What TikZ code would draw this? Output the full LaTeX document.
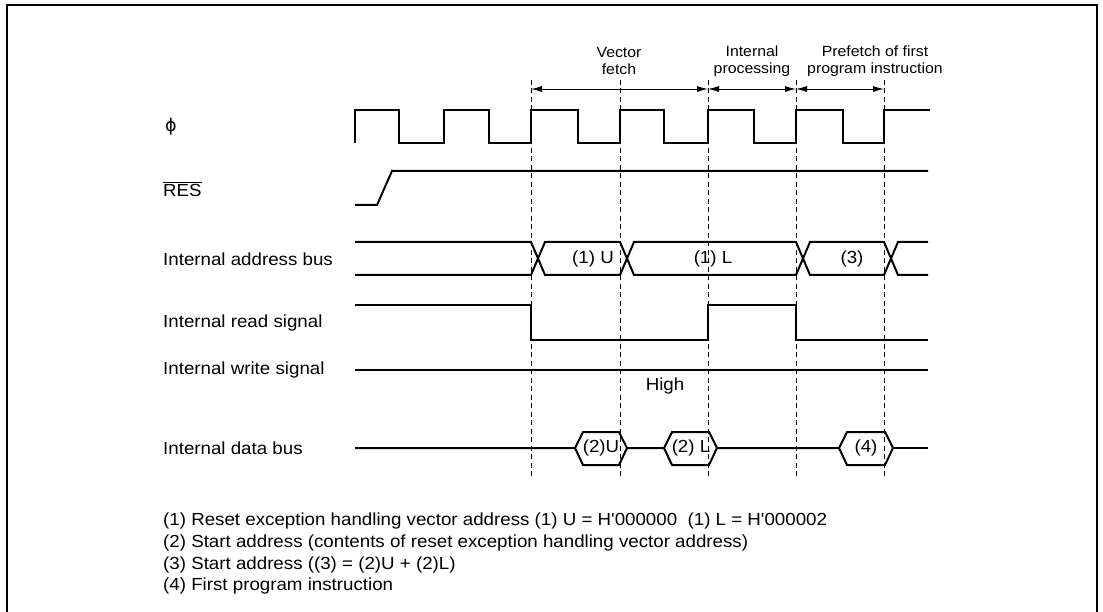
\documentclass[tikz,border=0pt]{standalone}
\usepackage{fontspec}
\setmainfont{Liberation Sans}[Ligatures=TeXOff, FakeStretch=1.07]
\newfontfamily\greekfont{DejaVu Sans}
\usetikzlibrary{arrows.meta, positioning, calc}

\begin{document}
\begin{tikzpicture}[
    x=1pt, y=-1pt,
    >={Latex[length=11pt,width=6pt]},
    sig/.style   = {line width=2pt, line join=miter},
    guide/.style = {line width=0.9pt, dash pattern=on 5pt off 3.5pt},
    span/.style  = {<->, line width=0.9pt},
    frame/.style = {line width=2.6pt},
    lbl/.style   = {anchor=west, inner sep=0pt, font=\fontsize{17.5}{21}\selectfont},
    val/.style   = {inner sep=0pt, font=\fontsize{17.5}{21}\selectfont},
    head/.style  = {align=center, inner sep=0pt, font=\fontsize{14.8}{17.5}\selectfont},
    note/.style  = {anchor=west, inner sep=0pt, font=\fontsize{17.5}{21}\selectfont}
  ]

  % ── Page and frame ──────────────────────────────────────────
  \useasboundingbox (0,0) rectangle (1103,612);
  \begin{scope}
    \clip (0,0) rectangle (1103,612);
    \draw[frame] (7,640) -- (7,5) -- (1097,5) -- (1097,640);
  \end{scope}

  % ── Guides (x = 531 ... 884) ────────────────────────────────
  \foreach \t/\x in {1/531, 2/620, 3/708, 4/796, 5/884} {
    \coordinate (g\t)  at (\x,80);
    \coordinate (g\t b) at (\x,478);
    \coordinate (a\t)  at (\x,89);
    \draw[guide] (g\t) -- (g\t b);
  }

  % ── Phase spans ─────────────────────────────────────────────
  \draw[span] (a1) -- (a3);
  \draw[span] (a3) -- (a4);
  \draw[span] (a4) -- (a5);
  \node[head] (hfetch) at (619,61) {Vector\\fetch};
  \node[head] (hproc)  at (752,61) {Internal\\processing};
  \node[head] (hpre)   at (875,61) {Prefetch of first\\program instruction};

  % ── Signal names ────────────────────────────────────────────
  \node[lbl] (lphi)  at (165,127) {\greekfont ϕ};
  \node[lbl] (lres)  at (163,189) {$\overline{\mbox{RES}}$};
  \node[lbl] (ladr)  at (163,259) {Internal address bus};
  \node[lbl] (lrd)   at (163,323) {Internal read signal};
  \node[lbl] (lwr)   at (163,370) {Internal write signal};
  \node[lbl] (ldat)  at (163,448) {Internal data bus};

  % ── Clock ───────────────────────────────────────────────────
  \draw[sig] (355,143) -- (355,110) -- (399,110) -- (399,143) -- (444,143)
    -- (444,110) -- (489,110) -- (489,143) -- (531,143) -- (531,110)
    -- (578,110) -- (578,143) -- (620,143) -- (620,110) -- (664,110)
    -- (664,143) -- (708,143) -- (708,110) -- (754,110) -- (754,143)
    -- (796,143) -- (796,110) -- (843,110) -- (843,143) -- (884,143)
    -- (884,110) -- (930,110);

  % ── Reset ───────────────────────────────────────────────────
  \draw[sig] (355,205) -- (377,205) -- (392,171) -- (928,171);

  % ── Address bus ─────────────────────────────────────────────
  \draw[sig] (355,242) -- (531,242) -- (545,275) -- (620,275) -- (634,242)
    -- (796,242) -- (810,275) -- (884,275) -- (898,242) -- (928,242);
  \draw[sig] (355,275) -- (531,275) -- (545,242) -- (620,242) -- (634,275)
    -- (796,275) -- (810,242) -- (884,242) -- (898,275) -- (928,275);
  \node[val] (au) at (593,259) {(1) U};
  \node[val] (al) at (713,259) {(1) L};
  \node[val] (a3) at (852,259) {(3)};

  % ── Read / write ────────────────────────────────────────────
  \draw[sig] (355,305) -- (531,305) -- (531,340) -- (708,340) -- (708,305)
    -- (796,305) -- (796,340) -- (928,340);
  \draw[sig] (355,370) -- (928,370);
  \node[val] (hi) at (665,386) {High};

  % ── Data bus ────────────────────────────────────────────────
  \draw[sig] (355,448) -- (575,448) -- (583,432) -- (619,432) -- (627,448)
    -- (619,465) -- (583,465) -- (575,448);
  \draw[sig] (627,448) -- (664,448) -- (672,432) -- (709,432) -- (717,448)
    -- (709,465) -- (672,465) -- (664,448);
  \draw[sig] (717,448) -- (839,448) -- (847,432) -- (885,432) -- (893,448)
    -- (885,465) -- (847,465) -- (839,448);
  \draw[sig] (893,448) -- (928,448);
  \node[val] (du) at (601,448) {(2)U};
  \node[val] (dl) at (691,448) {(2) L};
  \node[val] (d4) at (866,448) {(4)};

  % ── Notes ───────────────────────────────────────────────────
  \node[note] (n1) at (163,521) {(1) Reset exception handling vector address (1) U = H'000000\ \ (1) L = H'000002};
  \node[note] (n2) at (163,543) {(2) Start address (contents of reset exception handling vector address)};
  \node[note] (n3) at (163,565) {(3) Start address ((3) = (2)U + (2)L)};
  \node[note] (n4) at (163,586) {(4) First program instruction};

\end{tikzpicture}
\end{document}
